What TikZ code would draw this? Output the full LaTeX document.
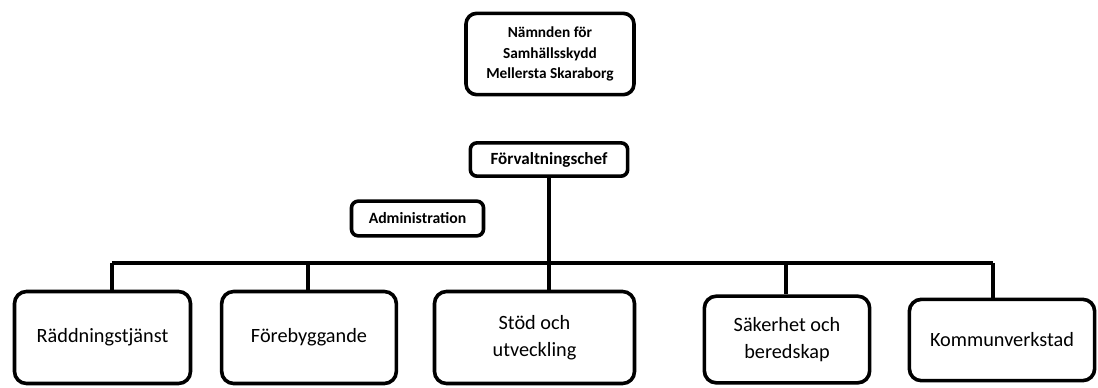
\documentclass[tikz,border=0pt]{standalone}
\usepackage{fontspec}
\setmainfont{Carlito}
\usetikzlibrary{positioning}

\begin{document}
\begin{tikzpicture}[x=0.75pt, y=-0.75pt, line width=2.7pt,
  box/.style={draw, align=center, inner sep=0pt},
  board/.style={box, rounded corners=8pt, minimum width=126pt, minimum height=61pt,
    font=\fontsize{11.5}{15.2}\selectfont\bfseries},
  head/.style={box, rounded corners=5pt, font=\fontsize{12.8}{14}\selectfont\bfseries},
  unit/.style={box, rounded corners=9pt, font=\fontsize{15.2}{20}\selectfont}]

\useasboundingbox (0,0) rectangle (1098,387);

\node[board] (board) at (550,54) {Nämnden för\\Samhällsskydd\\Mellersta Skaraborg};
\node[head, minimum width=118pt, minimum height=25pt] (chef) at (549,159.5) {Förvaltningschef};
\node[head, minimum width=99pt, minimum height=26pt, font=\fontsize{11.8}{14}\selectfont\bfseries] (admin) at (417.5,218.5) {Administration};

\node[unit, minimum width=132pt, minimum height=69pt] (rtj) at (102.5,337.5) {Räddningstjänst};
\node[unit, minimum width=131pt, minimum height=69pt] (fore) at (309,337.5) {Förebyggande};
\node[unit, minimum width=150pt, minimum height=69pt] (stod) at (534.5,337.5) {Stöd och\\utveckling};
\node[unit, minimum width=124pt, minimum height=65pt] (sak) at (787,339.5) {Säkerhet och\\beredskap};
\node[unit, minimum width=139pt, minimum height=61pt] (kv) at (1002,340) {Kommunverkstad};

% the bar under Förvaltningschef
\coordinate (b1) at (112,263);
\coordinate (b2) at (308,263);
\coordinate (b3) at (549,263);
\coordinate (b4) at (786,263);
\coordinate (b5) at (993,263);

\draw (chef.south) -- (b3);
\draw (b1) -- (b5);
\draw (b1) -- (b1 |- rtj.north);
\draw (b2) -- (b2 |- fore.north);
\draw (b3) -- (b3 |- stod.north);
\draw (b4) -- (b4 |- sak.north);
\draw (b5) -- (b5 |- kv.north);

\end{tikzpicture}
\end{document}
